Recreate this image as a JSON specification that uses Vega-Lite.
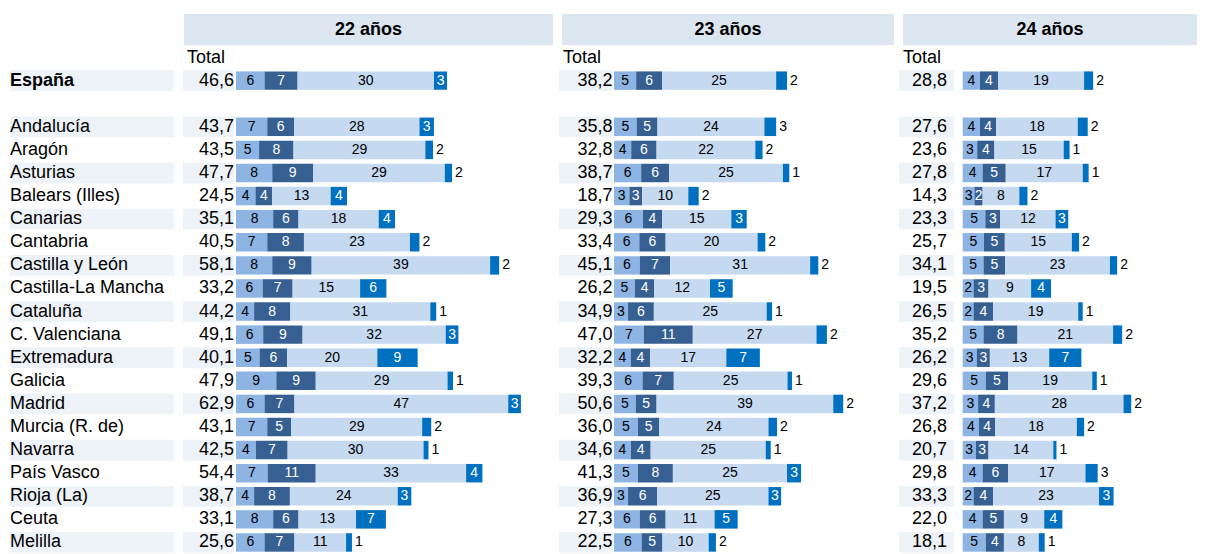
{
  "$schema": "https://vega.github.io/schema/vega-lite/v6.json",
  "padding": {"top": 14, "left": 10, "right": 0, "bottom": 0},
  "background": "white",
  "config": {
    "view": {"stroke": null},
    "font": "Liberation Sans",
    "locale": {"number": {"decimal": ",", "thousands": ".", "grouping": [3], "currency": ["", " €"]}}
  },
  "datasets": {
    "tabla": [
      {"region": "España", "edad": "22 años", "c1": 6.3, "c2": 7.3, "c3": 30.1, "c4": 2.9},
      {"region": "Andalucía", "edad": "22 años", "c1": 6.9, "c2": 5.9, "c3": 27.7, "c4": 3.2},
      {"region": "Aragón", "edad": "22 años", "c1": 5.1, "c2": 7.6, "c3": 29.1, "c4": 1.7},
      {"region": "Asturias", "edad": "22 años", "c1": 8.0, "c2": 9.0, "c3": 29.1, "c4": 1.6},
      {"region": "Balears (Illes)", "edad": "22 años", "c1": 4.3, "c2": 3.7, "c3": 12.9, "c4": 3.6},
      {"region": "Canarias", "edad": "22 años", "c1": 8.2, "c2": 5.6, "c3": 17.7, "c4": 3.6},
      {"region": "Cantabria", "edad": "22 años", "c1": 6.9, "c2": 8.1, "c3": 23.4, "c4": 2.1},
      {"region": "Castilla y León", "edad": "22 años", "c1": 8.0, "c2": 8.7, "c3": 39.4, "c4": 2.0},
      {"region": "Castilla-La Mancha", "edad": "22 años", "c1": 5.9, "c2": 6.6, "c3": 14.9, "c4": 5.8},
      {"region": "Cataluña", "edad": "22 años", "c1": 4.0, "c2": 8.0, "c3": 30.9, "c4": 1.3},
      {"region": "C. Valenciana", "edad": "22 años", "c1": 6.0, "c2": 8.7, "c3": 31.6, "c4": 2.8},
      {"region": "Extremadura", "edad": "22 años", "c1": 5.2, "c2": 6.1, "c3": 19.9, "c4": 8.9},
      {"region": "Galicia", "edad": "22 años", "c1": 8.9, "c2": 8.7, "c3": 29.1, "c4": 1.2},
      {"region": "Madrid", "edad": "22 años", "c1": 6.3, "c2": 6.6, "c3": 47.2, "c4": 2.8},
      {"region": "Murcia (R. de)", "edad": "22 años", "c1": 6.9, "c2": 5.3, "c3": 28.9, "c4": 2.0},
      {"region": "Navarra", "edad": "22 años", "c1": 4.4, "c2": 7.0, "c3": 30.0, "c4": 1.1},
      {"region": "País Vasco", "edad": "22 años", "c1": 7.0, "c2": 10.6, "c3": 33.2, "c4": 3.6},
      {"region": "Rioja (La)", "edad": "22 años", "c1": 4.0, "c2": 7.9, "c3": 23.8, "c4": 3.0},
      {"region": "Ceuta", "edad": "22 años", "c1": 8.2, "c2": 5.6, "c3": 12.7, "c4": 6.6},
      {"region": "Melilla", "edad": "22 años", "c1": 6.3, "c2": 6.6, "c3": 11.4, "c4": 1.3},

      {"region": "España", "edad": "23 años", "c1": 4.9, "c2": 5.7, "c3": 25.2, "c4": 2.4},
      {"region": "Andalucía", "edad": "23 años", "c1": 5.0, "c2": 4.6, "c3": 23.6, "c4": 2.6},
      {"region": "Aragón", "edad": "23 años", "c1": 3.8, "c2": 5.6, "c3": 21.8, "c4": 1.6},
      {"region": "Asturias", "edad": "23 años", "c1": 6.0, "c2": 6.2, "c3": 25.1, "c4": 1.4},
      {"region": "Balears (Illes)", "edad": "23 años", "c1": 3.4, "c2": 2.8, "c3": 10.2, "c4": 2.3},
      {"region": "Canarias", "edad": "23 años", "c1": 6.4, "c2": 4.2, "c3": 15.3, "c4": 3.4},
      {"region": "Cantabria", "edad": "23 años", "c1": 5.6, "c2": 5.8, "c3": 20.3, "c4": 1.7},
      {"region": "Castilla y León", "edad": "23 años", "c1": 5.7, "c2": 6.7, "c3": 30.9, "c4": 1.8},
      {"region": "Castilla-La Mancha", "edad": "23 años", "c1": 4.6, "c2": 4.3, "c3": 12.3, "c4": 5.0},
      {"region": "Cataluña", "edad": "23 años", "c1": 3.1, "c2": 5.7, "c3": 24.9, "c4": 1.2},
      {"region": "C. Valenciana", "edad": "23 años", "c1": 6.6, "c2": 10.8, "c3": 27.3, "c4": 2.3},
      {"region": "Extremadura", "edad": "23 años", "c1": 3.7, "c2": 4.3, "c3": 16.8, "c4": 7.4},
      {"region": "Galicia", "edad": "23 años", "c1": 6.3, "c2": 6.9, "c3": 25.1, "c4": 1.0},
      {"region": "Madrid", "edad": "23 años", "c1": 4.8, "c2": 4.6, "c3": 39.0, "c4": 2.2},
      {"region": "Murcia (R. de)", "edad": "23 años", "c1": 5.3, "c2": 4.7, "c3": 24.1, "c4": 1.9},
      {"region": "Navarra", "edad": "23 años", "c1": 3.7, "c2": 4.4, "c3": 25.4, "c4": 1.1},
      {"region": "País Vasco", "edad": "23 años", "c1": 5.3, "c2": 7.7, "c3": 25.2, "c4": 3.1},
      {"region": "Rioja (La)", "edad": "23 años", "c1": 3.1, "c2": 6.4, "c3": 24.6, "c4": 2.8},
      {"region": "Ceuta", "edad": "23 años", "c1": 5.7, "c2": 5.7, "c3": 10.8, "c4": 5.1},
      {"region": "Melilla", "edad": "23 años", "c1": 6.1, "c2": 4.6, "c3": 10.2, "c4": 1.6},

      {"region": "España", "edad": "24 años", "c1": 3.8, "c2": 4.0, "c3": 19.0, "c4": 2.0},
      {"region": "Andalucía", "edad": "24 años", "c1": 3.8, "c2": 3.6, "c3": 18.0, "c4": 2.2},
      {"region": "Aragón", "edad": "24 años", "c1": 3.2, "c2": 3.8, "c3": 15.3, "c4": 1.3},
      {"region": "Asturias", "edad": "24 años", "c1": 4.4, "c2": 5.1, "c3": 17.0, "c4": 1.3},
      {"region": "Balears (Illes)", "edad": "24 años", "c1": 2.6, "c2": 1.8, "c3": 8.1, "c4": 1.8},
      {"region": "Canarias", "edad": "24 años", "c1": 5.0, "c2": 3.3, "c3": 12.2, "c4": 2.8},
      {"region": "Cantabria", "edad": "24 años", "c1": 4.7, "c2": 4.6, "c3": 14.8, "c4": 1.6},
      {"region": "Castilla y León", "edad": "24 años", "c1": 4.6, "c2": 4.8, "c3": 23.1, "c4": 1.6},
      {"region": "Castilla-La Mancha", "edad": "24 años", "c1": 2.4, "c2": 3.3, "c3": 9.4, "c4": 4.4},
      {"region": "Cataluña", "edad": "24 años", "c1": 2.4, "c2": 4.3, "c3": 18.8, "c4": 1.0},
      {"region": "C. Valenciana", "edad": "24 años", "c1": 4.6, "c2": 7.5, "c3": 21.1, "c4": 2.0},
      {"region": "Extremadura", "edad": "24 años", "c1": 3.1, "c2": 2.9, "c3": 13.1, "c4": 7.1},
      {"region": "Galicia", "edad": "24 años", "c1": 5.1, "c2": 4.9, "c3": 18.6, "c4": 1.0},
      {"region": "Madrid", "edad": "24 años", "c1": 3.4, "c2": 3.7, "c3": 28.4, "c4": 1.7},
      {"region": "Murcia (R. de)", "edad": "24 años", "c1": 3.6, "c2": 3.6, "c3": 18.0, "c4": 1.6},
      {"region": "Navarra", "edad": "24 años", "c1": 2.9, "c2": 2.8, "c3": 14.3, "c4": 0.7},
      {"region": "País Vasco", "edad": "24 años", "c1": 4.4, "c2": 5.6, "c3": 17.1, "c4": 2.7},
      {"region": "Rioja (La)", "edad": "24 años", "c1": 2.4, "c2": 4.3, "c3": 23.4, "c4": 3.2},
      {"region": "Ceuta", "edad": "24 años", "c1": 4.4, "c2": 4.7, "c3": 8.9, "c4": 4.0},
      {"region": "Melilla", "edad": "24 años", "c1": 5.1, "c2": 4.0, "c3": 7.7, "c4": 1.3}
    ]
  },
  "spacing": 1,
  "vconcat": [
    {
      "spacing": 9,
      "bounds": "flush",
      "hconcat": [
        {"width": 165, "height": 31, "data": {"values": [{"t": ""}]}, "mark": {"type": "text", "text": ""}, "encoding": {}},
        {
          "width": 369, "height": 31, "data": {"values": [{"t": "22 años"}]},
          "encoding": {"y": {"field": "t", "type": "nominal", "axis": null, "scale": {"paddingInner": 0, "paddingOuter": 0}}},
          "layer": [
            {"mark": {"type": "rect", "color": "#DCE6F1"}, "encoding": {"x": {"datum": 0, "type": "quantitative", "scale": {"domain": [0, 1]}, "axis": null}, "x2": {"datum": 1}}},
            {"mark": {"type": "text", "fontSize": 18, "fontWeight": "bold", "font": "Liberation Sans", "color": "#000000"}, "encoding": {"x": {"datum": 0.5, "type": "quantitative", "scale": {"domain": [0, 1]}, "axis": null}, "text": {"field": "t"}}}
          ]
        },
        {
          "width": 332, "height": 31, "data": {"values": [{"t": "23 años"}]},
          "encoding": {"y": {"field": "t", "type": "nominal", "axis": null, "scale": {"paddingInner": 0, "paddingOuter": 0}}},
          "layer": [
            {"mark": {"type": "rect", "color": "#DCE6F1"}, "encoding": {"x": {"datum": 0, "type": "quantitative", "scale": {"domain": [0, 1]}, "axis": null}, "x2": {"datum": 1}}},
            {"mark": {"type": "text", "fontSize": 18, "fontWeight": "bold", "font": "Liberation Sans", "color": "#000000"}, "encoding": {"x": {"datum": 0.5, "type": "quantitative", "scale": {"domain": [0, 1]}, "axis": null}, "text": {"field": "t"}}}
          ]
        },
        {
          "width": 294, "height": 31, "data": {"values": [{"t": "24 años"}]},
          "encoding": {"y": {"field": "t", "type": "nominal", "axis": null, "scale": {"paddingInner": 0, "paddingOuter": 0}}},
          "layer": [
            {"mark": {"type": "rect", "color": "#DCE6F1"}, "encoding": {"x": {"datum": 0, "type": "quantitative", "scale": {"domain": [0, 1]}, "axis": null}, "x2": {"datum": 1}}},
            {"mark": {"type": "text", "fontSize": 18, "fontWeight": "bold", "font": "Liberation Sans", "color": "#000000"}, "encoding": {"x": {"datum": 0.5, "type": "quantitative", "scale": {"domain": [0, 1]}, "axis": null}, "text": {"field": "t"}}}
          ]
        }
      ]
    },
    {
      "spacing": 9,
      "bounds": "flush",
      "hconcat": [
        {
          "width": 164, "height": 508,
          "data": {"name": "tabla"},
          "transform": [{"filter": "datum.edad == '22 años'"}],
          "encoding": {"y": {"field": "region", "type": "nominal", "axis": null, "scale": {"domain": ["Total", "España", " ", "Andalucía", "Aragón", "Asturias", "Balears (Illes)", "Canarias", "Cantabria", "Castilla y León", "Castilla-La Mancha", "Cataluña", "C. Valenciana", "Extremadura", "Galicia", "Madrid", "Murcia (R. de)", "Navarra", "País Vasco", "Rioja (La)", "Ceuta", "Melilla"], "paddingInner": 0, "paddingOuter": 0}}},
          "layer": [
            {
              "transform": [{"filter": {"field": "region", "oneOf": ["España", "Andalucía", "Asturias", "Canarias", "Castilla y León", "Cataluña", "Extremadura", "Madrid", "Navarra", "Rioja (La)", "Melilla"]}}],
              "mark": {"type": "bar", "height": {"band": 0.9}, "color": "#EEF3F9"},
              "encoding": {"x": {"datum": 0, "type": "quantitative", "scale": {"domain": [0, 1]}, "axis": null}, "x2": {"datum": 1}}
            },
            {
              "transform": [{"filter": "datum.region != 'España'"}],
              "mark": {"type": "text", "align": "left", "fontSize": 18, "font": "Liberation Sans", "color": "#000000"},
              "encoding": {"x": {"datum": 0, "type": "quantitative", "scale": {"domain": [0, 1]}, "axis": null}, "text": {"field": "region"}}
            },
            {
              "transform": [{"filter": "datum.region == 'España'"}],
              "mark": {"type": "text", "align": "left", "fontSize": 18, "fontWeight": "bold", "font": "Liberation Sans", "color": "#000000"},
              "encoding": {"x": {"datum": 0, "type": "quantitative", "scale": {"domain": [0, 1]}, "axis": null}, "text": {"field": "region"}}
            }
          ]
        },
        {
          "width": 367, "height": 508,
          "data": {"name": "tabla"},
          "transform": [{"filter": "datum.edad == '22 años'"}, {"fold": ["c1", "c2", "c3", "c4"], "as": ["componente", "valor"]}],
          "encoding": {"y": {"field": "region", "type": "nominal", "axis": null, "scale": {"domain": ["Total", "España", " ", "Andalucía", "Aragón", "Asturias", "Balears (Illes)", "Canarias", "Cantabria", "Castilla y León", "Castilla-La Mancha", "Cataluña", "C. Valenciana", "Extremadura", "Galicia", "Madrid", "Murcia (R. de)", "Navarra", "País Vasco", "Rioja (La)", "Ceuta", "Melilla"], "paddingInner": 0, "paddingOuter": 0}}},
          "layer": [
            {
              "transform": [{"filter": "datum.componente == 'c1'"}, {"filter": {"field": "region", "oneOf": ["España", "Andalucía", "Asturias", "Canarias", "Castilla y León", "Cataluña", "Extremadura", "Madrid", "Navarra", "Rioja (La)", "Melilla"]}}],
              "mark": {"type": "bar", "height": {"band": 0.9}, "color": "#EEF3F9"},
              "encoding": {"x": {"datum": -11.70, "type": "quantitative", "scale": {"domain": [-11.70, 69.32], "nice": false, "zero": false}, "axis": null}, "x2": {"datum": -0.44}}
            },
            {
              "transform": [{"aggregate": [{"op": "sum", "field": "valor", "as": "total"}], "groupby": ["region"]}],
              "mark": {"type": "text", "align": "right", "fontSize": 18, "font": "Liberation Sans", "color": "#000000"},
              "encoding": {"x": {"datum": -0.44, "type": "quantitative", "scale": {"domain": [-11.70, 69.32], "nice": false, "zero": false}, "axis": null}, "text": {"field": "total", "type": "quantitative", "format": ".1f"}}
            },
            {
              "transform": [{"filter": "datum.region == 'España' && datum.componente == 'c1'"}],
              "mark": {"type": "text", "align": "left", "fontSize": 18, "font": "Liberation Sans", "color": "#000000", "text": "Total"},
              "encoding": {"x": {"datum": -10.82, "type": "quantitative", "scale": {"domain": [-11.70, 69.32], "nice": false, "zero": false}, "axis": null}, "y": {"datum": "Total", "type": "nominal"}}
            },
            {
              "mark": {"type": "bar", "height": {"band": 0.8}},
              "encoding": {
                "x": {"field": "valor", "type": "quantitative", "stack": "zero", "scale": {"domain": [-11.70, 69.32], "nice": false, "zero": false}, "axis": null},
                "color": {"field": "componente", "type": "nominal", "scale": {"domain": ["c1", "c2", "c3", "c4"], "range": ["#8DB4E2", "#376092", "#C5D9F1", "#0070C0"]}, "legend": null},
                "order": {"field": "componente"}
              }
            },
            {
              "transform": [
                {"stack": "valor", "groupby": ["region"], "sort": [{"field": "componente", "order": "ascending"}], "as": ["x0", "x1"]},
                {"calculate": "(datum.x0 + datum.x1) / 2", "as": "mid"},
                {"filter": "datum.componente != 'c4' || datum.valor >= 2.75"}
              ],
              "mark": {"type": "text", "align": "center", "fontSize": 14, "font": "Liberation Sans"},
              "encoding": {
                "x": {"field": "mid", "type": "quantitative", "scale": {"domain": [-11.70, 69.32], "nice": false, "zero": false}, "axis": null},
                "text": {"field": "valor", "type": "quantitative", "format": ".0f"},
                "color": {"condition": {"test": "datum.componente == 'c2' || datum.componente == 'c4'", "value": "#FFFFFF"}, "value": "#000000"}
              }
            },
            {
              "transform": [
                {"stack": "valor", "groupby": ["region"], "sort": [{"field": "componente", "order": "ascending"}], "as": ["x0", "x1"]},
                {"filter": "datum.componente == 'c4' && datum.valor < 2.75"}
              ],
              "mark": {"type": "text", "align": "left", "dx": 3, "fontSize": 14, "font": "Liberation Sans", "color": "#000000"},
              "encoding": {
                "x": {"field": "x1", "type": "quantitative", "scale": {"domain": [-11.70, 69.32], "nice": false, "zero": false}, "axis": null},
                "text": {"field": "valor", "type": "quantitative", "format": ".0f"}
              }
            }
          ]
        },
        {
          "width": 331, "height": 508,
          "data": {"name": "tabla"},
          "transform": [{"filter": "datum.edad == '23 años'"}, {"fold": ["c1", "c2", "c3", "c4"], "as": ["componente", "valor"]}],
          "encoding": {"y": {"field": "region", "type": "nominal", "axis": null, "scale": {"domain": ["Total", "España", " ", "Andalucía", "Aragón", "Asturias", "Balears (Illes)", "Canarias", "Cantabria", "Castilla y León", "Castilla-La Mancha", "Cataluña", "C. Valenciana", "Extremadura", "Galicia", "Madrid", "Murcia (R. de)", "Navarra", "País Vasco", "Rioja (La)", "Ceuta", "Melilla"], "paddingInner": 0, "paddingOuter": 0}}},
          "layer": [
            {
              "transform": [{"filter": "datum.componente == 'c1'"}, {"filter": {"field": "region", "oneOf": ["España", "Andalucía", "Asturias", "Canarias", "Castilla y León", "Cataluña", "Extremadura", "Madrid", "Navarra", "Rioja (La)", "Melilla"]}}],
              "mark": {"type": "bar", "height": {"band": 0.9}, "color": "#EEF3F9"},
              "encoding": {"x": {"datum": -12.14, "type": "quantitative", "scale": {"domain": [-12.14, 60.93], "nice": false, "zero": false}, "axis": null}, "x2": {"datum": -0.33}}
            },
            {
              "transform": [{"aggregate": [{"op": "sum", "field": "valor", "as": "total"}], "groupby": ["region"]}],
              "mark": {"type": "text", "align": "right", "fontSize": 18, "font": "Liberation Sans", "color": "#000000"},
              "encoding": {"x": {"datum": -0.33, "type": "quantitative", "scale": {"domain": [-12.14, 60.93], "nice": false, "zero": false}, "axis": null}, "text": {"field": "total", "type": "quantitative", "format": ".1f"}}
            },
            {
              "transform": [{"filter": "datum.region == 'España' && datum.componente == 'c1'"}],
              "mark": {"type": "text", "align": "left", "fontSize": 18, "font": "Liberation Sans", "color": "#000000", "text": "Total"},
              "encoding": {"x": {"datum": -11.26, "type": "quantitative", "scale": {"domain": [-12.14, 60.93], "nice": false, "zero": false}, "axis": null}, "y": {"datum": "Total", "type": "nominal"}}
            },
            {
              "mark": {"type": "bar", "height": {"band": 0.8}},
              "encoding": {
                "x": {"field": "valor", "type": "quantitative", "stack": "zero", "scale": {"domain": [-12.14, 60.93], "nice": false, "zero": false}, "axis": null},
                "color": {"field": "componente", "type": "nominal", "scale": {"domain": ["c1", "c2", "c3", "c4"], "range": ["#8DB4E2", "#376092", "#C5D9F1", "#0070C0"]}, "legend": null},
                "order": {"field": "componente"}
              }
            },
            {
              "transform": [
                {"stack": "valor", "groupby": ["region"], "sort": [{"field": "componente", "order": "ascending"}], "as": ["x0", "x1"]},
                {"calculate": "(datum.x0 + datum.x1) / 2", "as": "mid"},
                {"filter": "datum.componente != 'c4' || datum.valor >= 2.75"}
              ],
              "mark": {"type": "text", "align": "center", "fontSize": 14, "font": "Liberation Sans"},
              "encoding": {
                "x": {"field": "mid", "type": "quantitative", "scale": {"domain": [-12.14, 60.93], "nice": false, "zero": false}, "axis": null},
                "text": {"field": "valor", "type": "quantitative", "format": ".0f"},
                "color": {"condition": {"test": "datum.componente == 'c2' || datum.componente == 'c4'", "value": "#FFFFFF"}, "value": "#000000"}
              }
            },
            {
              "transform": [
                {"stack": "valor", "groupby": ["region"], "sort": [{"field": "componente", "order": "ascending"}], "as": ["x0", "x1"]},
                {"filter": "datum.componente == 'c4' && datum.valor < 2.75"}
              ],
              "mark": {"type": "text", "align": "left", "dx": 3, "fontSize": 14, "font": "Liberation Sans", "color": "#000000"},
              "encoding": {
                "x": {"field": "x1", "type": "quantitative", "scale": {"domain": [-12.14, 60.93], "nice": false, "zero": false}, "axis": null},
                "text": {"field": "valor", "type": "quantitative", "format": ".0f"}
              }
            }
          ]
        },
        {
          "width": 309, "height": 508,
          "data": {"name": "tabla"},
          "transform": [{"filter": "datum.edad == '24 años'"}, {"fold": ["c1", "c2", "c3", "c4"], "as": ["componente", "valor"]}],
          "encoding": {"y": {"field": "region", "type": "nominal", "axis": null, "scale": {"domain": ["Total", "España", " ", "Andalucía", "Aragón", "Asturias", "Balears (Illes)", "Canarias", "Cantabria", "Castilla y León", "Castilla-La Mancha", "Cataluña", "C. Valenciana", "Extremadura", "Galicia", "Madrid", "Murcia (R. de)", "Navarra", "País Vasco", "Rioja (La)", "Ceuta", "Melilla"], "paddingInner": 0, "paddingOuter": 0}}},
          "layer": [
            {
              "transform": [{"filter": "datum.componente == 'c1'"}, {"filter": {"field": "region", "oneOf": ["España", "Andalucía", "Asturias", "Canarias", "Castilla y León", "Cataluña", "Extremadura", "Madrid", "Navarra", "Rioja (La)", "Melilla"]}}],
              "mark": {"type": "bar", "height": {"band": 0.9}, "color": "#EEF3F9"},
              "encoding": {"x": {"datum": -14.06, "type": "quantitative", "scale": {"domain": [-14.06, 54.15], "nice": false, "zero": false}, "axis": null}, "x2": {"datum": -1.92}}
            },
            {
              "transform": [{"aggregate": [{"op": "sum", "field": "valor", "as": "total"}], "groupby": ["region"]}],
              "mark": {"type": "text", "align": "right", "fontSize": 18, "font": "Liberation Sans", "color": "#000000"},
              "encoding": {"x": {"datum": -3.47, "type": "quantitative", "scale": {"domain": [-14.06, 54.15], "nice": false, "zero": false}, "axis": null}, "text": {"field": "total", "type": "quantitative", "format": ".1f"}}
            },
            {
              "transform": [{"filter": "datum.region == 'España' && datum.componente == 'c1'"}],
              "mark": {"type": "text", "align": "left", "fontSize": 18, "font": "Liberation Sans", "color": "#000000", "text": "Total"},
              "encoding": {"x": {"datum": -13.18, "type": "quantitative", "scale": {"domain": [-14.06, 54.15], "nice": false, "zero": false}, "axis": null}, "y": {"datum": "Total", "type": "nominal"}}
            },
            {
              "mark": {"type": "bar", "height": {"band": 0.8}},
              "encoding": {
                "x": {"field": "valor", "type": "quantitative", "stack": "zero", "scale": {"domain": [-14.06, 54.15], "nice": false, "zero": false}, "axis": null},
                "color": {"field": "componente", "type": "nominal", "scale": {"domain": ["c1", "c2", "c3", "c4"], "range": ["#8DB4E2", "#376092", "#C5D9F1", "#0070C0"]}, "legend": null},
                "order": {"field": "componente"}
              }
            },
            {
              "transform": [
                {"stack": "valor", "groupby": ["region"], "sort": [{"field": "componente", "order": "ascending"}], "as": ["x0", "x1"]},
                {"calculate": "(datum.x0 + datum.x1) / 2", "as": "mid"},
                {"filter": "datum.componente != 'c4' || datum.valor >= 2.75"}
              ],
              "mark": {"type": "text", "align": "center", "fontSize": 14, "font": "Liberation Sans"},
              "encoding": {
                "x": {"field": "mid", "type": "quantitative", "scale": {"domain": [-14.06, 54.15], "nice": false, "zero": false}, "axis": null},
                "text": {"field": "valor", "type": "quantitative", "format": ".0f"},
                "color": {"condition": {"test": "datum.componente == 'c2' || datum.componente == 'c4'", "value": "#FFFFFF"}, "value": "#000000"}
              }
            },
            {
              "transform": [
                {"stack": "valor", "groupby": ["region"], "sort": [{"field": "componente", "order": "ascending"}], "as": ["x0", "x1"]},
                {"filter": "datum.componente == 'c4' && datum.valor < 2.75"}
              ],
              "mark": {"type": "text", "align": "left", "dx": 3, "fontSize": 14, "font": "Liberation Sans", "color": "#000000"},
              "encoding": {
                "x": {"field": "x1", "type": "quantitative", "scale": {"domain": [-14.06, 54.15], "nice": false, "zero": false}, "axis": null},
                "text": {"field": "valor", "type": "quantitative", "format": ".0f"}
              }
            }
          ]
        }
      ]
    }
  ]
}
